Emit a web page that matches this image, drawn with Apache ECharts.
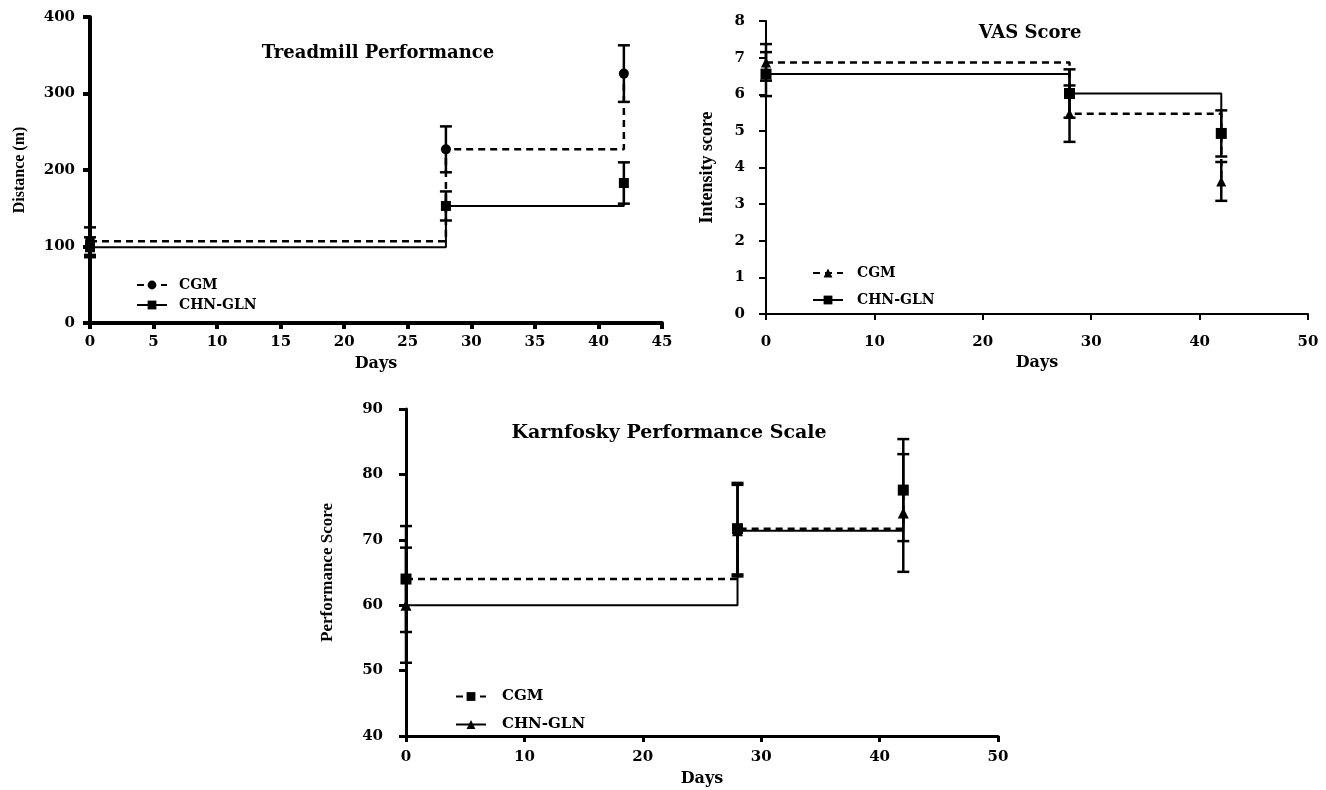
<!DOCTYPE html>
<html>
<head>
<meta charset="utf-8">
<script src="https://cdn.jsdelivr.net/npm/echarts@6/dist/echarts.min.js"></script>
<style>
html,body{margin:0;padding:0;background:#fff;}
#chart{width:1326px;height:790px;}
</style>
</head>
<body>
<div id="chart"></div>
<script>
// ---- data ----
const days = [0, 28, 42];

const treadmillCGM = [107, 227, 326];
const treadmillCGMErr = [18, 30, 37];
const treadmillCHN = [99, 153, 183];
const treadmillCHNErr = [13, 19, 27];

const vasCGM = [6.87, 5.47, 3.62];
const vasCGMErr = [0.5, 0.77, 0.53];
const vasCHN = [6.55, 6.02, 4.93];
const vasCHNErr = [0.6, 0.66, 0.63];

const kpsCGM = [64, 71.7, 77.6];
const kpsCGMErr = [8.1, 7, 7.8];
const kpsCHN = [60, 71.4, 74.1];
const kpsCHNErr = [8.8, 7, 9];

const seriesNames = ['CGM', 'CHN-GLN'];
const panelTitles = ['Treadmill Performance', 'VAS Score', 'Karnfosky Performance Scale'];
const yNames = ['Distance (m)', 'Intensity score', 'Performance Score'];
const xName = 'Days';

// ---- helpers ----
const SERIF = "'DejaVu Serif', serif";
const NARROW = "'Liberation Serif', 'Times New Roman', serif";

function pairs(xs, ys) { return xs.map((x, i) => [x, ys[i]]); }
function errData(xs, m, e) { return xs.map((x, i) => [x, m[i] - e[i], m[i] + e[i]]); }

function stepLine(name, xs, ys, grid, dashed, symbol, symSize, lw) {
  return {
    type: 'line', name: name, xAxisIndex: grid, yAxisIndex: grid,
    data: pairs(xs, ys), step: 'end', clip: false,
    symbol: symbol, symbolSize: symSize, showSymbol: true,
    itemStyle: { color: '#000' },
    lineStyle: { color: '#000', width: lw, type: dashed ? [7, 5] : 'solid' },
    emphasis: { disabled: true }, z: 3
  };
}

function errBars(xs, m, e, grid, lw, cap) {
  return {
    type: 'custom', xAxisIndex: grid, yAxisIndex: grid, clip: false,
    data: errData(xs, m, e), encode: { x: 0, y: [1, 2] }, z: 4,
    silent: true,
    renderItem: function (params, api) {
      const x = api.value(0), lo = api.value(1), hi = api.value(2);
      const a = api.coord([x, lo]), b = api.coord([x, hi]);
      const h = cap / 2;
      const st = { stroke: '#000', lineWidth: lw };
      return {
        type: 'group', children: [
          { type: 'line', shape: { x1: a[0], y1: a[1], x2: b[0], y2: b[1] }, style: st },
          { type: 'line', shape: { x1: a[0] - h, y1: a[1], x2: a[0] + h, y2: a[1] }, style: st },
          { type: 'line', shape: { x1: b[0] - h, y1: b[1], x2: b[0] + h, y2: b[1] }, style: st }
        ]
      };
    }
  };
}

function xAx(grid, max, interval, lw, labelMargin, nameGap) {
  return {
    type: 'value', gridIndex: grid, min: 0, max: max, interval: interval,
    name: xName, nameLocation: 'middle', nameGap: nameGap,
    nameTextStyle: { fontFamily: SERIF, fontWeight: 'bold', fontSize: 16, color: '#000' },
    axisLine: { show: true, lineStyle: { color: '#000', width: lw } },
    axisTick: { show: true, length: 6, lineStyle: { color: '#000', width: lw } },
    axisLabel: { fontFamily: SERIF, fontWeight: 'bold', fontSize: 15, color: '#000', margin: labelMargin },
    splitLine: { show: false }
  };
}
function yAx(grid, min, max, interval, lw, labelMargin, name, nameGap, nameSize) {
  return {
    type: 'value', gridIndex: grid, min: min, max: max, interval: interval,
    name: name, nameLocation: 'middle', nameGap: nameGap,
    nameTextStyle: { fontFamily: NARROW, fontWeight: 'bold', fontSize: nameSize, color: '#000' },
    axisLine: { show: true, lineStyle: { color: '#000', width: lw } },
    axisTick: { show: true, length: 7, lineStyle: { color: '#000', width: lw } },
    axisLabel: { fontFamily: SERIF, fontWeight: 'bold', fontSize: 15, color: '#000', margin: labelMargin },
    splitLine: { show: false }
  };
}
function legendAt(left, top, names, gap, fs, pad) {
  return {
    left: left, top: top, orient: 'vertical', itemGap: gap,
    itemWidth: 30, itemHeight: 11, selectedMode: false,
    data: names,
    formatter: function (n) { return n.split('|')[0]; },
    textStyle: { fontFamily: SERIF, fontWeight: 'bold', fontSize: fs, color: '#000', padding: [0, 0, 0, pad], lineHeight: 14 }
  };
}
function title(text, cx, cy, size) {
  return {
    type: 'text', x: cx, y: cy, silent: true,
    style: { text: text, fill: '#000', align: 'center', verticalAlign: 'middle',
      font: 'bold ' + size + "px 'DejaVu Serif', serif" }
  };
}

const chart = echarts.init(document.getElementById('chart'), null, { renderer: 'canvas' });

const option = {
  backgroundColor: '#fff',
  animation: false,
  grid: [
    { left: 90, top: 17, width: 572, height: 306 },
    { left: 766, top: 21, width: 542, height: 293 },
    { left: 406, top: 409, width: 592, height: 327 }
  ],
  xAxis: [
    xAx(0, 45, 5, 4, 12, 33),
    xAx(1, 50, 10, 2, 21, 41),
    xAx(2, 50, 10, 3, 14, 35)
  ],
  yAxis: [
    yAx(0, 0, 400, 100, 4, 15, yNames[0], 62, 16),
    yAx(1, 0, 8, 1, 2, 21, yNames[1], 50, 18),
    yAx(2, 40, 90, 10, 3, 23, yNames[2], 70, 17)
  ],
  legend: [
    legendAt(131, 273, [seriesNames[0] + '|1', seriesNames[1] + '|1'], 6, 14, 7),
    legendAt(807, 261, [seriesNames[0] + '|2', seriesNames[1] + '|2'], 13, 14, 9),
    legendAt(450, 684, [seriesNames[0] + '|3', seriesNames[1] + '|3'], 13, 15, 11)
  ],
  graphic: [
    title(panelTitles[0], 378, 53, 18),
    title(panelTitles[1], 1030, 33, 18),
    title(panelTitles[2], 669, 433, 19)
  ],
  series: [
    stepLine(seriesNames[0] + '|1', days, treadmillCGM, 0, true, 'circle', 10, 2.5),
    stepLine(seriesNames[1] + '|1', days, treadmillCHN, 0, false, 'rect', 10, 2),
    errBars(days, treadmillCGM, treadmillCGMErr, 0, 2.5, 12),
    errBars(days, treadmillCHN, treadmillCHNErr, 0, 2.5, 12),

    stepLine(seriesNames[0] + '|2', days, vasCGM, 1, true, 'triangle', 10, 2.5),
    stepLine(seriesNames[1] + '|2', days, vasCHN, 1, false, 'rect', 11, 2),
    errBars(days, vasCGM, vasCGMErr, 1, 2.5, 12),
    errBars(days, vasCHN, vasCHNErr, 1, 2.5, 12),

    stepLine(seriesNames[0] + '|3', days, kpsCGM, 2, true, 'rect', 11, 2.5),
    stepLine(seriesNames[1] + '|3', days, kpsCHN, 2, false, 'triangle', 11, 2),
    errBars(days, kpsCGM, kpsCGMErr, 2, 2.5, 12),
    errBars(days, kpsCHN, kpsCHNErr, 2, 2.5, 12)
  ]
};
chart.setOption(option);
</script>
</body>
</html>
